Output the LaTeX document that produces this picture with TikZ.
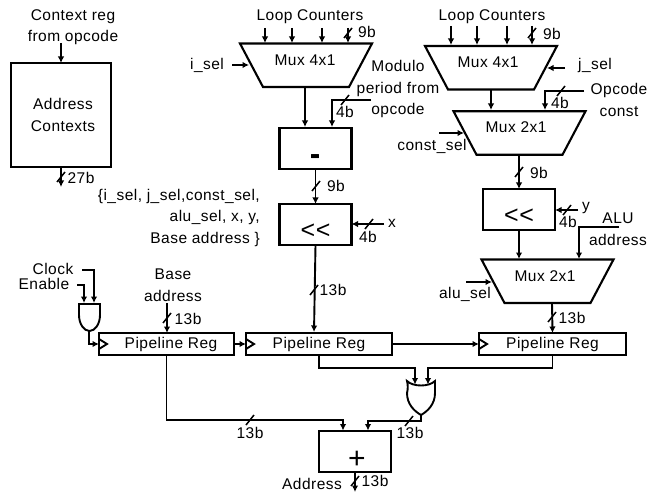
\documentclass[tikz,border=0pt]{standalone}
\usepackage{fontspec}
\setmainfont[LetterSpace=3]{Liberation Sans}
\usetikzlibrary{arrows.meta,calc}

\tikzset{
    wire/.style={line width=1.9pt},
    arr/.style={wire, -{Latex[length=6.5pt,width=6.5pt]}},
    blockbox/.style={draw, line width=2.1pt, inner sep=0pt, outer sep=0pt},
    regbox/.style={blockbox, minimum height=22pt},
    calcbox/.style={blockbox, minimum width=72pt, minimum height=41pt},
    muxbox/.style={inner sep=0pt, outer sep=0pt, minimum width=132pt, minimum height=43.5pt},
    lbl/.style={inner sep=0pt, align=center}
}
\newcommand{\muxtext}[2][-2pt]{\raisebox{0pt}[6pt][6pt]{\kern#1 #2}}
\newcommand{\optext}[3]{\raisebox{#1}[0pt][0pt]{\fontsize{#2}{#2}\selectfont #3}}
\newcommand{\muxoutline}[1]{\draw[line width=2.1pt] (#1.north west) -- (#1.north east) -- ($(#1.south east)+(-23,0)$) -- ($(#1.south west)+(23,0)$) -- cycle;}

\begin{document}
\begin{tikzpicture}[x=1pt, y=-1pt, every node/.style={font=\fontsize{15.5}{21.5}\selectfont}]
    \useasboundingbox (0,0) rectangle (660,494);

    % blocks
    \node[blockbox, minimum width=100pt, minimum height=104pt, align=center] (ctx) at (61,115) {\kern4pt Address\\\kern4pt Contexts};
    \node[muxbox] (muxi) at (306,65.25) {\muxtext{Mux 4x1}};
    \node[muxbox] (muxj) at (491,67.75) {\muxtext[-6pt]{Mux 4x1}};
    \node[muxbox] (muxc) at (519.5,133) {\muxtext[-7pt]{Mux 2x1}};
    \node[muxbox] (muxa) at (547.5,281.25) {\muxtext[-5pt]{Mux 2x1}};
    \foreach \mux in {muxi,muxj,muxc,muxa}
        \muxoutline{\mux}
    \node[calcbox] (sub) at (315.5,148.5) {\optext{-16pt}{30}{\textbf{-}}};
    \node[calcbox] (shx) at (315.5,224.5) {\optext{-13.5pt}{25}{<{}<}};
    \node[calcbox] (shy) at (519,209.5) {\optext{-13.5pt}{25}{<{}<}};
    \node[calcbox] (add) at (355,451.5) {\kern4pt\optext{-16.5pt}{30}{+}};
    \node[regbox, minimum width=135pt] (rega) at (166.5,344) {\kern9pt Pipeline Reg};
    \node[regbox, minimum width=146pt] (regb) at (319,344) {Pipeline Reg};
    \node[regbox, minimum width=147pt] (regc) at (552.5,344) {Pipeline Reg};

    % gates
    \draw[wire] (79,304) -- (100,304) -- (100,315) .. controls (100,324) and (95,331) .. (89.5,331)
        .. controls (84,331) and (79,324) .. (79,315) -- cycle;
    \coordinate (andc) at (84,303);
    \coordinate (andk) at (94,303);
    \coordinate (ando) at (89,331);
    \draw[wire] (407,381) .. controls (413,387) and (429,387) .. (435,381) -- (435,393)
        .. controls (435,404) and (428,411) .. (421,415) .. controls (414,411) and (407,404) .. (407,393)
        .. controls (408,389) and (408,385) .. (407,381) -- cycle;
    \coordinate (orl) at (415,384.5);
    \coordinate (orr) at (428,384.5);
    \coordinate (oro) at (421,415);

    % clock marks
    \foreach \reg in {rega,regb,regc}
        \draw[wire] ($(\reg.west)+(0,-5)$) -- ($(\reg.west)+(8,0)$) -- ($(\reg.west)+(0,5)$);

    % texts
    \node[lbl] (ctxlbl) at (73,27) {Context reg\\from opcode};
    \node[lbl] (loopi) at (310,17) {Loop Counters};
    \node[lbl] (loopj) at (492,17) {Loop Counters};
    \node[lbl] (isel) at (207,65) {i\_sel};
    \node[lbl] (jsel) at (595,65) {j\_sel};
    \node[lbl] (csel) at (432,146) {const\_sel};
    \node[lbl] (asel) at (465,294) {alu\_sel};
    \node[lbl] (modlbl) at (398,89) {Modulo\\period from\\opcode};
    \node[lbl] (oplbl) at (619,100) {Opcode\\const};
    \node[lbl] (alulbl) at (618,229) {ALU\\address};
    \node[lbl, align=right, anchor=east] (fields) at (260,217.5) {\{i\_sel, j\_sel,const\_sel,\\alu\_sel, x, y,\\Base address \}};
    \node[lbl] (xlbl) at (392,223) {x};
    \node[lbl] (ylbl) at (586,208) {y};
    \node[lbl] (clklbl) at (53,269) {Clock};
    \node[lbl] (enlbl) at (44,284) {Enable};
    \node[lbl] (baselbl) at (173,285) {Base\\address};
    \node[lbl] (addrlbl) at (312,484) {Address};

    % free ends
    \coordinate (ctxin) at (61,43);
    \coordinate (ctxout) at (61,187);
    \coordinate (modin) at (371,100);
    \coordinate (opin) at (584,91);
    \coordinate (aluin) at (619,227);
    \coordinate (xin) at (384,224);
    \coordinate (yin) at (578,210);
    \coordinate (iselin) at (232,65);
    \coordinate (jselin) at (565,68);
    \coordinate (cselin) at (439,133);
    \coordinate (aselin) at (466,282);
    \coordinate (clkin) at (82,270);
    \coordinate (enin) at (77,285);
    \coordinate (basein) at (167,303);
    \coordinate (addrout) at (355,492);

    % connectors
    \draw[arr] (ctxin) -- (ctxin |- ctx.north);
    \draw[arr] (ctxout |- ctx.south) -- (ctxout);
    \foreach \cx in {265,292,322,348}
        \draw[arr] (\cx,28) -- (\cx,43);
    \foreach \cx in {451,477,507,532}
        \draw[arr] (\cx,26) -- (\cx,45);
    \draw[arr] (iselin) -- (249,65);
    \draw[arr] (jselin) -- (547,68);
    \draw[arr] (cselin) -- (464,133);
    \draw[arr] (aselin) -- (492,282);
    \draw[arr] (305,87) -- (305,127);
    \draw[arr] (modin) -| (332,127);
    \draw[arr] (sub.south) -- (shx.north);
    \draw[arr] (xin) -- (shx.east |- xin);
    \draw[arr] (shx.south) -- (314,332);
    \draw[arr] (491,89.5) -- (491,110);
    \draw[arr] (opin) -| (545,110);
    \draw[arr] (519,154.5) -- (shy.north);
    \draw[arr] (yin) -- (shy.east |- yin);
    \draw[arr] (shy.south) -- (519,259);
    \draw[arr] (aluin) -| (579,259);
    \draw[arr] (552,303) -- (regc.north);
    \draw[arr] (basein) -- (basein |- rega.north);
    \draw[arr] (clkin) -| (andk);
    \draw[arr] (enin) -| (andc);
    \draw[arr] (ando) |- (rega.west);
    \draw[arr] (rega.east) -- (regb.west);
    \draw[arr] (regb.east) -- (regc.west);
    \draw[arr] (regb.south) |- (415,368) -- (orl);
    \draw[arr] (regc.south) |- (428,368) -- (orr);
    \draw[arr] (oro) |- (368,421) -- (368,430.5);
    \draw[arr] (rega.south) |- (343,420) -- (343,430.5);
    \draw[arr] (add.south) -- (addrout);

    % bus widths
    \foreach \sx/\sy/\lx/\ly/\txt [count=\n] in {
        61/177/81/178/27b, 348/33/367/32/9b, 532/33/552/34/9b,
        345/100/345/112/4b, 561/91/560/103/4b, 316/186/336/186/9b,
        519/172/539/173/9b, 369/224/368/237/4b, 567/210/568/222/4b,
        314/290/333/290/13b, 167/318/188/319/13b, 552/317/572/318/13b,
        250/420/250/433/13b, 409/421/410/433/13b, 355/481/375/481/13b}
    {
        \draw[line width=1.5pt] (\sx-4,\sy+5) -- (\sx+4,\sy-5);
        \node[lbl] (bus\n) at (\lx,\ly) {\txt};
    }
\end{tikzpicture}
\end{document}
